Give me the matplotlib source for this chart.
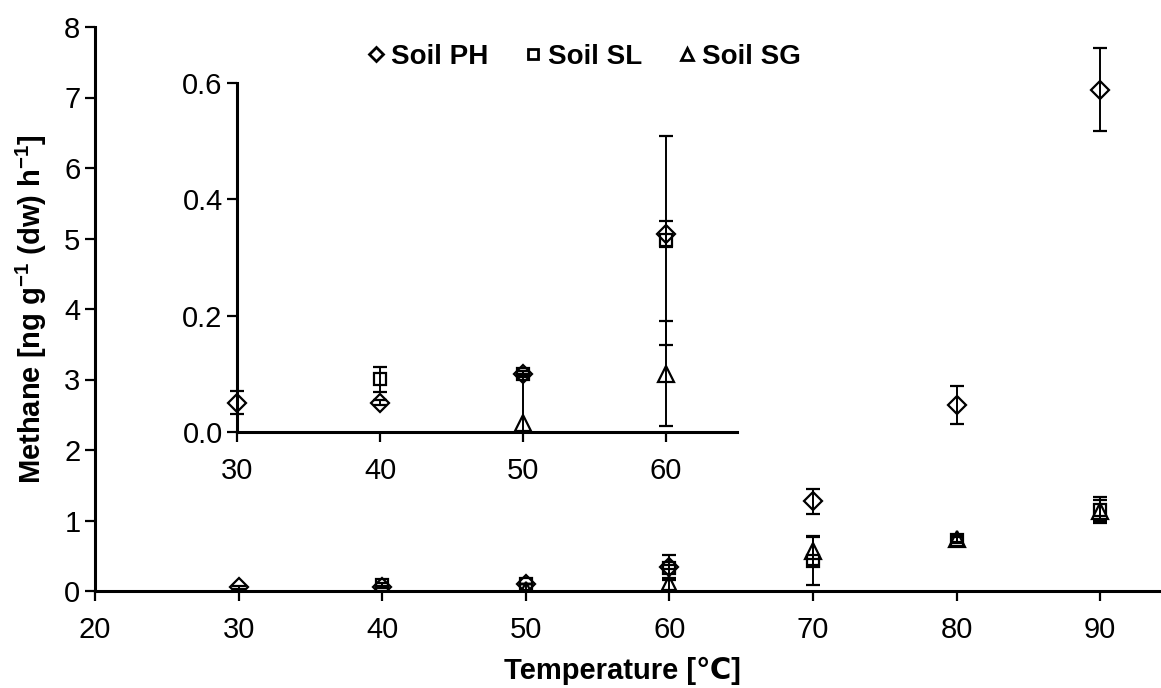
import numpy as np
import matplotlib
matplotlib.use("Agg")
import matplotlib.pyplot as plt
from matplotlib.lines import Line2D

plt.rcParams['font.family'] = ['Liberation Sans', 'DejaVu Sans']
plt.rcParams['mathtext.fontset'] = 'custom'
plt.rcParams['mathtext.rm'] = 'Liberation Sans:bold'
plt.rcParams['mathtext.bf'] = 'Liberation Sans:bold'

# ---- data ----
temps = [30, 40, 50, 60, 70, 80, 90]
ph = [0.05, 0.05, 0.10, 0.34, 1.27, 2.64, 7.11]
ph_err = [0.02, 0.004, 0.004, 0.022, 0.18, 0.27, 0.59]
sl = [np.nan, 0.09, 0.10, 0.33, 0.43, 0.72, 1.15]
sl_err = [np.nan, 0.022, 0.005, 0.18, 0.35, 0.04, 0.19]
sg = [np.nan, np.nan, 0.015, 0.10, 0.57, 0.74, 1.14]
sg_err_low = [np.nan, np.nan, 0.015, 0.09, 0.20, 0.04, 0.145]
sg_err_high = [np.nan, np.nan, 0.085, 0.09, 0.20, 0.04, 0.145]

series_names = ['Soil PH', 'Soil SL', 'Soil SG']
main_xticks = [20, 30, 40, 50, 60, 70, 80, 90]
main_yticks = [0, 1, 2, 3, 4, 5, 6, 7, 8]
inset_xmax = 65
inset_xticks = [30, 40, 50, 60]
inset_yticks = [0.0, 0.2, 0.4, 0.6]
inset_yticklabels = ['0.0', '0.2', '0.4', '0.6']

markers = ['D', 's', '^']
msizes = [8.8, 9, 11]
FS = 21
W, H = 1161, 688

fig = plt.figure(figsize=(W / 100, H / 100), dpi=100)

# main axes
ax = fig.add_axes([95 / W, (H - 591) / H, (W - 95) / W, (591 - 27) / H])
# inset axes
axi = fig.add_axes([237.3 / W, (H - 431.7) / H, (737 - 237.3) / W, (431.7 - 83.3) / H])

vals = [(ph, ph_err), (sl, sl_err), (sg, [sg_err_low, sg_err_high])]


def draw(a, clip, xmax=None):
    t = np.array(temps, dtype=float)
    keep = np.ones(len(t), bool) if xmax is None else (t <= xmax)
    for (y, e), m, ms in zip(vals, markers, msizes):
        y = np.asarray(y, float)[keep]
        e = np.asarray(e, float)
        e = e[..., keep]
        eb = a.errorbar(t[keep], y, yerr=e, fmt=m, ms=ms, mfc='none', mec='black',
                        mew=1.6, ecolor='black', elinewidth=1.4, capsize=5,
                        capthick=1.4, zorder=3)
        for child in eb.get_children():
            child.set_clip_on(clip)


draw(ax, True)
draw(axi, False, inset_xmax)

for a in (ax, axi):
    for s in ('top', 'right'):
        a.spines[s].set_visible(False)
    for s in ('left', 'bottom'):
        a.spines[s].set_linewidth(2.2)
        a.spines[s].set_color('black')
    a.tick_params(direction='out', length=7, width=1.6, labelsize=FS, colors='black')
    a.patch.set_alpha(0)

ax.set_xlim(20, 20 + (W - 95) / 14.36)
ax.set_ylim(0, 8)
ax.set_xticks(main_xticks)
ax.set_yticks(main_yticks)
ax.tick_params(axis='x', pad=11)

axi.set_xlim(30, inset_xmax)
axi.set_ylim(0, 0.6)
axi.set_xticks(inset_xticks)
axi.set_yticks(inset_yticks)
axi.set_yticklabels(inset_yticklabels)
axi.tick_params(axis='x', pad=11)

ax.set_xlabel('Temperature [\u2103]', fontsize=FS, fontweight='bold')
ax.xaxis.set_label_coords((622 - 95) / (W - 95), -0.117)
ax.set_ylabel('Methane [ng g$^{-1}$ (dw) h$^{-1}$]', fontsize=FS, fontweight='bold')
ax.yaxis.set_label_coords(-0.043, 0.5)

handles = [Line2D([], [], ls='none', marker=m, ms=ms * 0.8, mfc='none', mec='black', mew=2)
           for m, ms in zip(markers, msizes)]
leg = fig.legend(handles, series_names, loc='center', bbox_to_anchor=(584 / W, 1 - 57 / H),
                 ncol=3, frameon=False, handlelength=0.6, handletextpad=0.25,
                 columnspacing=1.3, prop={'size': FS - 1, 'weight': 'bold'})

fig.savefig('out.png', dpi=100)
